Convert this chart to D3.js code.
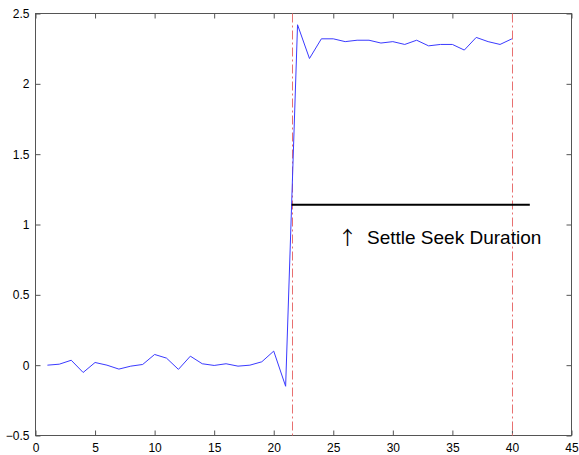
<!DOCTYPE html>
<html><head><meta charset="utf-8">
<script src="https://cdn.jsdelivr.net/npm/d3@7"></script>
<style>body{margin:0;background:#fff}svg{display:block}text{font-family:Arial,"Liberation Sans",sans-serif}</style>
</head><body><svg id="c" width="579" height="455"></svg>
<script>
const xs = d3.range(1, 41);
const ys = [0, 0.007, 0.035, -0.052, 0.019, 0.0, -0.028, -0.007, 0.005, 0.076,
  0.05, -0.03, 0.064, 0.01, -0.002, 0.01, -0.007, 0.0, 0.024, 0.10,
  -0.15, 2.42, 2.18, 2.32, 2.32, 2.30, 2.31, 2.31, 2.29, 2.30,
  2.28, 2.31, 2.27, 2.28, 2.28, 2.24, 2.33, 2.30, 2.28, 2.32];
const xTicks = [0, 5, 10, 15, 20, 25, 30, 35, 40, 45];
const yTicks = [-0.5, 0, 0.5, 1, 1.5, 2, 2.5];
const vLines = [21.5, 40];
const settleLine = {x0: 21.5, x1: 41.5, y: 1.14};
const arrowLabel = "\u2191";
const label = "Settle Seek Duration";

const svg = d3.select("#c");
const x = d3.scaleLinear().domain([0, 45]).range([35.5, 571.5]);
const y = d3.scaleLinear().domain([-0.5, 2.5]).range([435.5, 13.5]);
const axisCol = "#555";

svg.append("rect").attr("x", x(0)).attr("y", y(2.5)).attr("width", x(45) - x(0)).attr("height", y(-0.5) - y(2.5))
  .attr("fill", "none").attr("stroke", axisCol).attr("stroke-width", 1);

const gx = svg.append("g").attr("transform", `translate(0,${y(-0.5)})`)
  .call(d3.axisBottom(x).tickValues(xTicks).tickSize(-5).tickPadding(8).tickFormat(d3.format("d")));
const gxt = svg.append("g").attr("transform", `translate(0,${y(2.5)})`)
  .call(d3.axisTop(x).tickValues(xTicks).tickSize(-5).tickFormat(""));
const gy = svg.append("g").attr("transform", `translate(${x(0)},0)`)
  .call(d3.axisLeft(y).tickValues(yTicks).tickSize(-5).tickPadding(6).tickFormat(d => d3.format("")(d)));
const gyr = svg.append("g").attr("transform", `translate(${x(45)},0)`)
  .call(d3.axisRight(y).tickValues(yTicks).tickSize(-5).tickFormat(""));
[gx, gxt, gy, gyr].forEach(g => {
  g.select(".domain").remove();
  g.selectAll("line").attr("stroke", axisCol);
  g.selectAll("text").attr("font-size", 12).attr("fill", "#000").attr("font-family", "Arial, 'Liberation Sans', sans-serif");
});
gy.selectAll("text").attr("dy", "0.32em");

svg.selectAll(".vl").data(vLines).enter().append("line")
  .attr("x1", d => Math.round(x(d)) + 0.5).attr("x2", d => Math.round(x(d)) + 0.5)
  .attr("y1", y(2.5)).attr("y2", y(-0.5))
  .attr("stroke", "#e87070").attr("stroke-width", 1).attr("stroke-dasharray", "9,3,2,3");

const line = d3.line().x((d, i) => x(xs[i])).y(d => y(d));
svg.append("path").datum(ys).attr("d", line).attr("fill", "none")
  .attr("stroke", "#3a3aff").attr("stroke-width", 1);

svg.append("line").attr("x1", x(settleLine.x0)).attr("x2", x(settleLine.x1))
  .attr("y1", y(settleLine.y)).attr("y2", y(settleLine.y))
  .attr("stroke", "#000").attr("stroke-width", 2);

const t = svg.append("text").attr("y", 244).attr("fill", "#000");
t.append("tspan").attr("x", 338).attr("font-size", 19).attr("font-family", "'Noto Sans CJK JP', 'DejaVu Sans', sans-serif").attr("dy", 1).text(arrowLabel);
t.append("tspan").attr("x", 367).attr("dy", -1).attr("font-size", 19).text(label);
</script></body></html>
